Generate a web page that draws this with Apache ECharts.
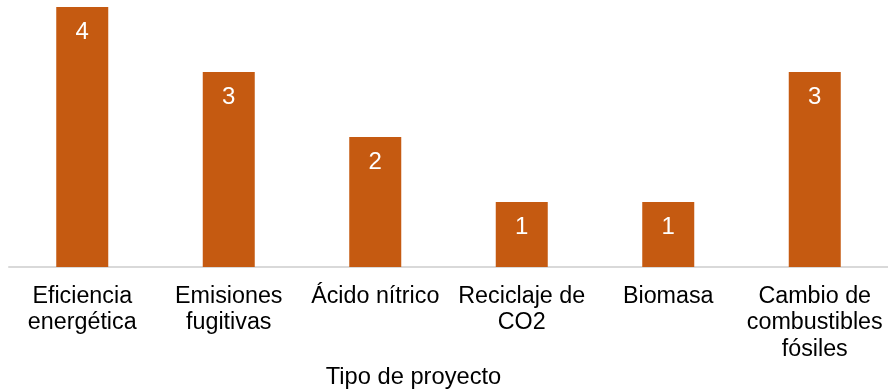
<!DOCTYPE html>
<html><head><meta charset="utf-8">
<script src="https://cdn.jsdelivr.net/npm/echarts@6/dist/echarts.min.js"></script>
<style>html,body{margin:0;padding:0;background:#fff}#c{width:888px;height:390px}</style>
</head><body><div id="c"></div>
<script>
const categories = ['Eficiencia\nenergética', 'Emisiones\nfugitivas', 'Ácido nítrico', 'Reciclaje de\nCO2', 'Biomasa', 'Cambio de\ncombustibles\nfósiles'];
const values = [4, 3, 2, 1, 1, 3];
const axisName = 'Tipo de proyecto';
const chart = echarts.init(document.getElementById('c'));
chart.setOption({
  animation: false,
  textStyle: { fontFamily: 'Liberation Sans, Arial, sans-serif' },
  grid: { left: 9, right: 0, top: 7, bottom: 123, containLabel: false, outerBoundsMode: 'none' },
  xAxis: {
    type: 'category', data: categories,
    name: axisName, nameLocation: 'middle', nameGap: 110, nameMoveOverlap: false,
    nameTextStyle: { fontSize: 23.7, color: '#000', padding: [0, 70, 0, 0], verticalAlign: 'middle' },
    axisLine: { lineStyle: { color: '#d9d9d9', width: 2 } },
    axisTick: { show: false },
    axisLabel: { fontSize: 23.3, color: '#000', margin: 16, lineHeight: 26.7, interval: 0 }
  },
  yAxis: { type: 'value', min: 0, max: 4, show: false, splitLine: { show: false } },
  series: [{
    type: 'bar', data: values, barWidth: 52,
    itemStyle: { color: '#C55A11' },
    label: { show: true, position: 'insideTop', distance: 13, color: '#fff', fontSize: 24 }
  }]
});
</script></body></html>
